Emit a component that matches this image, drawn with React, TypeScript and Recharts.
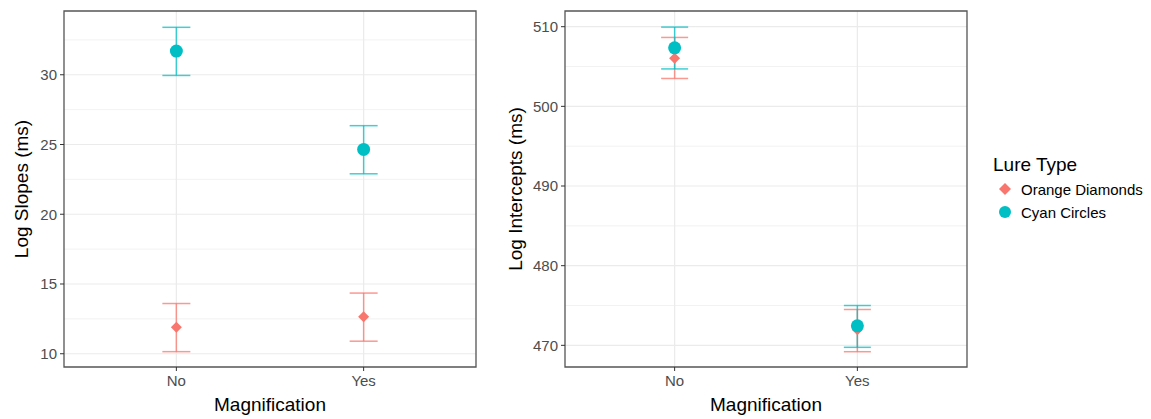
import {
  CartesianGrid,
  ErrorBar,
  ReferenceArea,
  Scatter,
  ScatterChart,
  XAxis,
  YAxis,
} from 'recharts';

const magnification = ['No', 'Yes'];

// slopes panel
const slopeOrange = [11.9, 12.65];
const slopeOrangeLow = [10.15, 10.9];
const slopeOrangeHigh = [13.6, 14.35];
const slopeCyan = [31.7, 24.65];
const slopeCyanLow = [29.95, 22.9];
const slopeCyanHigh = [33.4, 26.35];
const slopeTicks = [10, 15, 20, 25, 30];
const slopeMinor = [12.5, 17.5, 22.5, 27.5, 32.5];

// intercepts panel
const interceptOrange = [506.05, 471.95];
const interceptOrangeLow = [503.5, 469.2];
const interceptOrangeHigh = [508.65, 474.5];
const interceptCyan = [507.35, 472.45];
const interceptCyanLow = [504.7, 469.75];
const interceptCyanHigh = [509.95, 475.0];
const interceptTicks = [470, 480, 490, 500, 510];
const interceptMinor = [475, 485, 495, 505];

const ORANGE = '#F8766D';
const CYAN = '#00BFC4';
const FONT = '"Liberation Sans", Arial, sans-serif';

type Row = { x: number; y: number; err: [number, number] };

const rows = (mean: number[], low: number[], high: number[]): Row[] =>
  mean.map((m, i) => ({ x: i + 1, y: m, err: [m - low[i], high[i] - m] }));

const Diamond = (p: any) => (
  <polygon
    points={`${p.cx},${p.cy - 5.5} ${p.cx + 5.5},${p.cy} ${p.cx},${p.cy + 5.5} ${p.cx - 5.5},${p.cy}`}
    fill={ORANGE}
  />
);

const Dot = (p: any) => <circle cx={p.cx} cy={p.cy} r={6.5} fill={CYAN} />;

const yTitle = (text: string, x: number) => (props: any) => {
  const vb = props.viewBox;
  const cy = vb.y + vb.height / 2;
  return (
    <text
      x={x}
      y={cy}
      transform={`rotate(-90 ${x} ${cy})`}
      textAnchor="middle"
      dominantBaseline="central"
      fontSize={19}
      fontFamily={FONT}
      fill="#000"
    >
      {text}
    </text>
  );
};

const xTitle = (props: any) => {
  const vb = props.viewBox;
  return (
    <text
      x={vb.x + vb.width / 2}
      y={vb.y + 44}
      textAnchor="middle"
      fontSize={19}
      fontFamily={FONT}
      fill="#000"
    >
      Magnification
    </text>
  );
};

// legend drawn beside the right panel, like ggplot's guide
const LegendBox = () => (
  <svg width={160} height={72} style={{ display: 'block' }}>
    <text x={0} y={18} fontSize={19} fontFamily={FONT} fill="#000">
      Lure Type
    </text>
    <polygon points="12,30 18,36 12,42 6,36" fill={ORANGE} />
    <text x={28} y={36} dominantBaseline="central" fontSize={15} fontFamily={FONT} fill="#000">
      Orange Diamonds
    </text>
    <circle cx={12} cy={59} r={6} fill={CYAN} />
    <text x={28} y={59} dominantBaseline="central" fontSize={15} fontFamily={FONT} fill="#000">
      Cyan Circles
    </text>
  </svg>
);

type PanelProps = {
  width: number;
  marginRight: number;
  axisWidth: number;
  domain: [number, number];
  ticks: number[];
  minor: number[];
  orange: Row[];
  cyan: Row[];
  title: string;
  titleX: number;
  capHalf: number;
};

function Panel(p: PanelProps) {
  const tickStyle = { fontSize: 15, fill: '#4D4D4D', fontFamily: FONT };
  return (
    <ScatterChart width={p.width} height={419} margin={{ top: 11, right: p.marginRight, bottom: 0, left: 0 }}>
      <CartesianGrid
        horizontalValues={p.minor}
        vertical={false}
        stroke="#EDEDED"
        strokeWidth={0.7}
      />
      <CartesianGrid
        horizontalValues={p.ticks}
        verticalValues={[1, 2]}
        stroke="#EBEBEB"
        strokeWidth={1.2}
      />
      <XAxis
        type="number"
        dataKey="x"
        domain={[0.4, 2.6]}
        ticks={[1, 2]}
        allowDataOverflow
        tickFormatter={(v: number) => magnification[v - 1]}
        height={52}
        axisLine={false}
        tickSize={4}
        tickMargin={4}
        tickLine={{ stroke: '#333' }}
        tick={tickStyle}
        label={{ content: xTitle }}
      />
      <YAxis
        type="number"
        dataKey="y"
        domain={p.domain}
        ticks={p.ticks}
        allowDataOverflow
        width={p.axisWidth}
        axisLine={false}
        tickSize={4}
        tickMargin={3}
        tickLine={{ stroke: '#333' }}
        tick={tickStyle}
        label={{ content: yTitle(p.title, p.titleX) }}
      />
      <ReferenceArea
        x1={0.4}
        x2={2.6}
        y1={p.domain[0]}
        y2={p.domain[1]}
        fill="none"
        stroke="#555"
        strokeWidth={1.3}
        ifOverflow="visible"
      />
      <Scatter name="Orange Diamonds" data={p.orange} fill={ORANGE} shape={Diamond} isAnimationActive={false}>
        <ErrorBar dataKey="err" direction="y" width={p.capHalf} stroke={ORANGE} strokeOpacity={0.75} strokeWidth={1.5} />
      </Scatter>
      <Scatter name="Cyan Circles" data={p.cyan} fill={CYAN} shape={Dot} isAnimationActive={false}>
        <ErrorBar dataKey="err" direction="y" width={p.capHalf} stroke={CYAN} strokeOpacity={0.75} strokeWidth={1.5} />
      </Scatter>
    </ScatterChart>
  );
}

export default function App() {
  return (
    <div style={{ position: 'absolute', left: 0, top: 0, width: 1151, height: 419, background: '#fff' }}>
      <div style={{ position: 'absolute', left: 0, top: 0 }}>
        <Panel
          width={480}
          marginRight={4}
          axisWidth={64}
          domain={[9.05, 34.57]}
          ticks={slopeTicks}
          minor={slopeMinor}
          orange={rows(slopeOrange, slopeOrangeLow, slopeOrangeHigh)}
          cyan={rows(slopeCyan, slopeCyanLow, slopeCyanHigh)}
          title="Log Slopes (ms)"
          titleX={21}
          capHalf={14}
        />
      </div>
      <div style={{ position: 'absolute', left: 490, top: 0 }}>
        <Panel
          width={661}
          marginRight={184}
          axisWidth={75}
          domain={[467.28, 511.97]}
          ticks={interceptTicks}
          minor={interceptMinor}
          orange={rows(interceptOrange, interceptOrangeLow, interceptOrangeHigh)}
          cyan={rows(interceptCyan, interceptCyanLow, interceptCyanHigh)}
          title="Log Intercepts (ms)"
          titleX={25}
          capHalf={13.5}
        />
      </div>
      <div style={{ position: 'absolute', left: 993, top: 153 }}>
        <LegendBox />
      </div>
    </div>
  );
}
